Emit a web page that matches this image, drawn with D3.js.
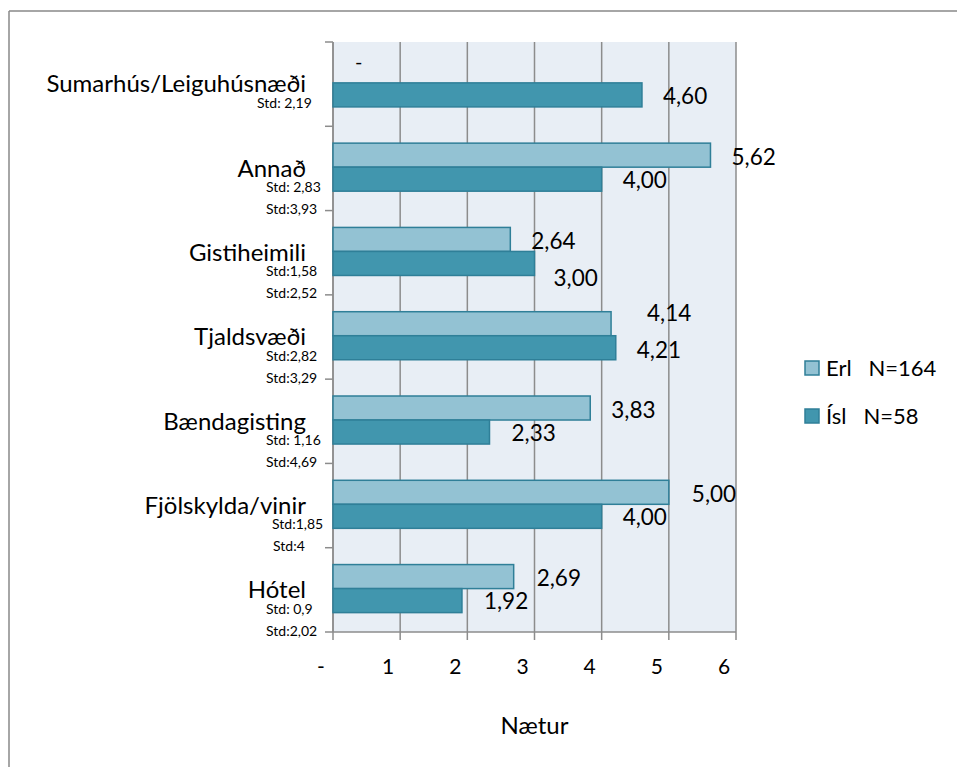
<!DOCTYPE html>
<html>
<head>
<meta charset="utf-8">
<script src="https://cdn.jsdelivr.net/npm/d3@7"></script>
<style>
  html, body { margin: 0; padding: 0; background: #fff; }
  svg { display: block; font-family: Lato, "Open Sans", sans-serif; }
</style>
</head>
<body>
<svg id="chart" width="957" height="767"></svg>
<script>
// ---- data ----
const categories = ["Sumarhús/Leiguhúsnæði", "Annað", "Gistiheimili", "Tjaldsvæði", "Bændagisting", "Fjölskylda/vinir", "Hótel"];
const erlValues = [null, 5.62, 2.64, 4.14, 3.83, 5.00, 2.69];
const islValues = [4.60, 4.00, 3.00, 4.21, 2.33, 4.00, 1.92];
const stdErl = ["Std: 2,19", "Std: 2,83", "Std:1,58", "Std:2,82", "Std: 1,16", "Std:1,85", "Std: 0,9"];
const stdIsl = ["", "Std:3,93", "Std:2,52", "Std:3,29", "Std:4,69", "Std:4", "Std:2,02"];
const seriesNames = ["Erl   N=164", "Ísl   N=58"];
const xTickValues = [0, 1, 2, 3, 4, 5, 6];
const xTickLabels = ["-", "1", "2", "3", "4", "5", "6"];
const xTitle = "Nætur";

// ---- layout / style ----
const colors = { erl: "#93c2d3", isl: "#4196ae", stroke: "#2f7f98", bg: "#e8eef5", grid: "#8c8c8c" };
// manual label nudges (dx, dy) for a few data labels, as in the original
const erlNudge = [[0,0],[0,0],[0,0],[15,-13],[0,0],[2,0],[2,0]];
const islNudge = [[0,0],[0,0],[-2,14],[0,1],[1,0],[0,0],[1,0]];
// std text box left edges differ slightly per category
const stdX1 = [257, 266, 266, 266, 266, 272, 266];
const stdX2 = [266, 266, 266, 266, 266, 273, 266];

const svg = d3.select("#chart");
const pLeft = 333, pRight = 736, pTop = 42, pBottom = 632;

// outer frame (top + left)
svg.append("line").attr("x1", 9).attr("x2", 957).attr("y1", 11).attr("y2", 11).attr("stroke", "#888").attr("stroke-width", 1.5);
svg.append("line").attr("x1", 9).attr("x2", 9).attr("y1", 11).attr("y2", 767).attr("stroke", "#888").attr("stroke-width", 1.5);

const x = d3.scaleLinear().domain([0, 6]).range([pLeft, pRight]);
const y = d3.scaleBand().domain(categories).range([pTop, pBottom]).padding(0);
const bw = y.bandwidth();
const sub = d3.scaleBand().domain(["erl", "isl"]).range([bw * 0.2, bw * 0.77]).padding(0);

// plot background
svg.append("rect").attr("x", pLeft).attr("y", pTop).attr("width", pRight - pLeft).attr("height", pBottom - pTop).attr("fill", colors.bg);

// vertical gridlines (extend into tick marks below)
svg.append("g").selectAll("line").data(xTickValues).join("line")
  .attr("x1", d => x(d)).attr("x2", d => x(d))
  .attr("y1", pTop).attr("y2", pBottom + 8)
  .attr("stroke", colors.grid).attr("stroke-width", 1.5);

// x axis line
svg.append("line").attr("x1", pLeft).attr("x2", pRight).attr("y1", pBottom).attr("y2", pBottom)
  .attr("stroke", colors.grid).attr("stroke-width", 1.5);

// y axis line and ticks at band boundaries
svg.append("line").attr("x1", pLeft).attr("x2", pLeft).attr("y1", pTop).attr("y2", pBottom)
  .attr("stroke", colors.grid).attr("stroke-width", 1.5);
const boundaries = categories.map(c => y(c)).concat([pBottom]);
svg.append("g").selectAll("line").data(boundaries).join("line")
  .attr("x1", pLeft - 8).attr("x2", pLeft).attr("y1", d => d).attr("y2", d => d)
  .attr("stroke", colors.grid).attr("stroke-width", 1.5);

// x tick labels
svg.append("g").selectAll("text").data(xTickValues).join("text")
  .attr("x", d => x(d) - 12).attr("y", pBottom + 42)
  .attr("text-anchor", "middle").attr("font-size", 21).attr("fill", "#000")
  .text((d, i) => xTickLabels[i]);

// x title
svg.append("text").attr("x", (pLeft + pRight) / 2 + 0).attr("y", pBottom + 102)
  .attr("text-anchor", "middle").attr("font-size", 24).text(xTitle);

// bars
const rows = categories.map((c, i) => ({ c, i, erl: erlValues[i], isl: islValues[i] }));
const barG = svg.append("g");
barG.selectAll("rect.erl").data(rows.filter(r => r.erl != null)).join("rect")
  .attr("class", "erl")
  .attr("x", x(0)).attr("y", r => y(r.c) + sub("erl"))
  .attr("width", r => x(r.erl) - x(0)).attr("height", sub.bandwidth())
  .attr("fill", colors.erl).attr("stroke", colors.stroke).attr("stroke-width", 1.5);
barG.selectAll("rect.isl").data(rows.filter(r => r.isl != null)).join("rect")
  .attr("class", "isl")
  .attr("x", x(0)).attr("y", r => y(r.c) + sub("isl"))
  .attr("width", r => x(r.isl) - x(0)).attr("height", sub.bandwidth())
  .attr("fill", colors.isl).attr("stroke", colors.stroke).attr("stroke-width", 1.5);

const fmt = v => v.toFixed(2).replace(".", ",");

// value labels
const lblG = svg.append("g").attr("font-size", 22.5).attr("fill", "#000");
rows.forEach(r => {
  const cy = y(r.c) + sub("erl") + sub.bandwidth() / 2;
  if (r.erl != null) {
    lblG.append("text").attr("x", x(r.erl) + 21 + erlNudge[r.i][0]).attr("y", cy + 2 + erlNudge[r.i][1])
      .attr("dy", "0.35em").text(fmt(r.erl));
  } else {
    lblG.append("text").attr("x", x(0) + 22).attr("y", cy - 9).attr("dy", "0.35em").attr("font-size", 20).text("-");
  }
  const cy2 = y(r.c) + sub("isl") + sub.bandwidth() / 2;
  if (r.isl != null) {
    lblG.append("text").attr("x", x(r.isl) + 21 + islNudge[r.i][0]).attr("y", cy2 + 1 + islNudge[r.i][1])
      .attr("dy", "0.35em").text(fmt(r.isl));
  }
});

// category labels
svg.append("g").selectAll("text").data(categories).join("text")
  .attr("x", 306).attr("y", c => y(c) + 42).attr("dy", "0.35em")
  .attr("text-anchor", "end").attr("font-size", 24).text(c => c);

// std labels
const stdG = svg.append("g").attr("font-size", 14).attr("fill", "#000");
categories.forEach((c, i) => {
  stdG.append("text").attr("x", stdX1[i]).attr("y", y(c) + 61).attr("dy", "0.35em").text(stdErl[i]);
  if (stdIsl[i]) stdG.append("text").attr("x", stdX2[i]).attr("y", y(c) + 83).attr("dy", "0.35em").text(stdIsl[i]);
});

// legend
const legend = svg.append("g");
const legendColors = [colors.erl, colors.isl];
seriesNames.forEach((s, i) => {
  const ly = 368 + i * 48;
  legend.append("rect").attr("x", 805).attr("y", ly - 7).attr("width", 14).attr("height", 14)
    .attr("fill", legendColors[i]).attr("stroke", colors.stroke).attr("stroke-width", 1.5);
  legend.append("text").attr("x", 826).attr("y", ly).attr("dy", "0.35em").attr("font-size", 22)
    .attr("xml:space", "preserve").style("white-space", "pre").text(s);
});
</script>
</body>
</html>
